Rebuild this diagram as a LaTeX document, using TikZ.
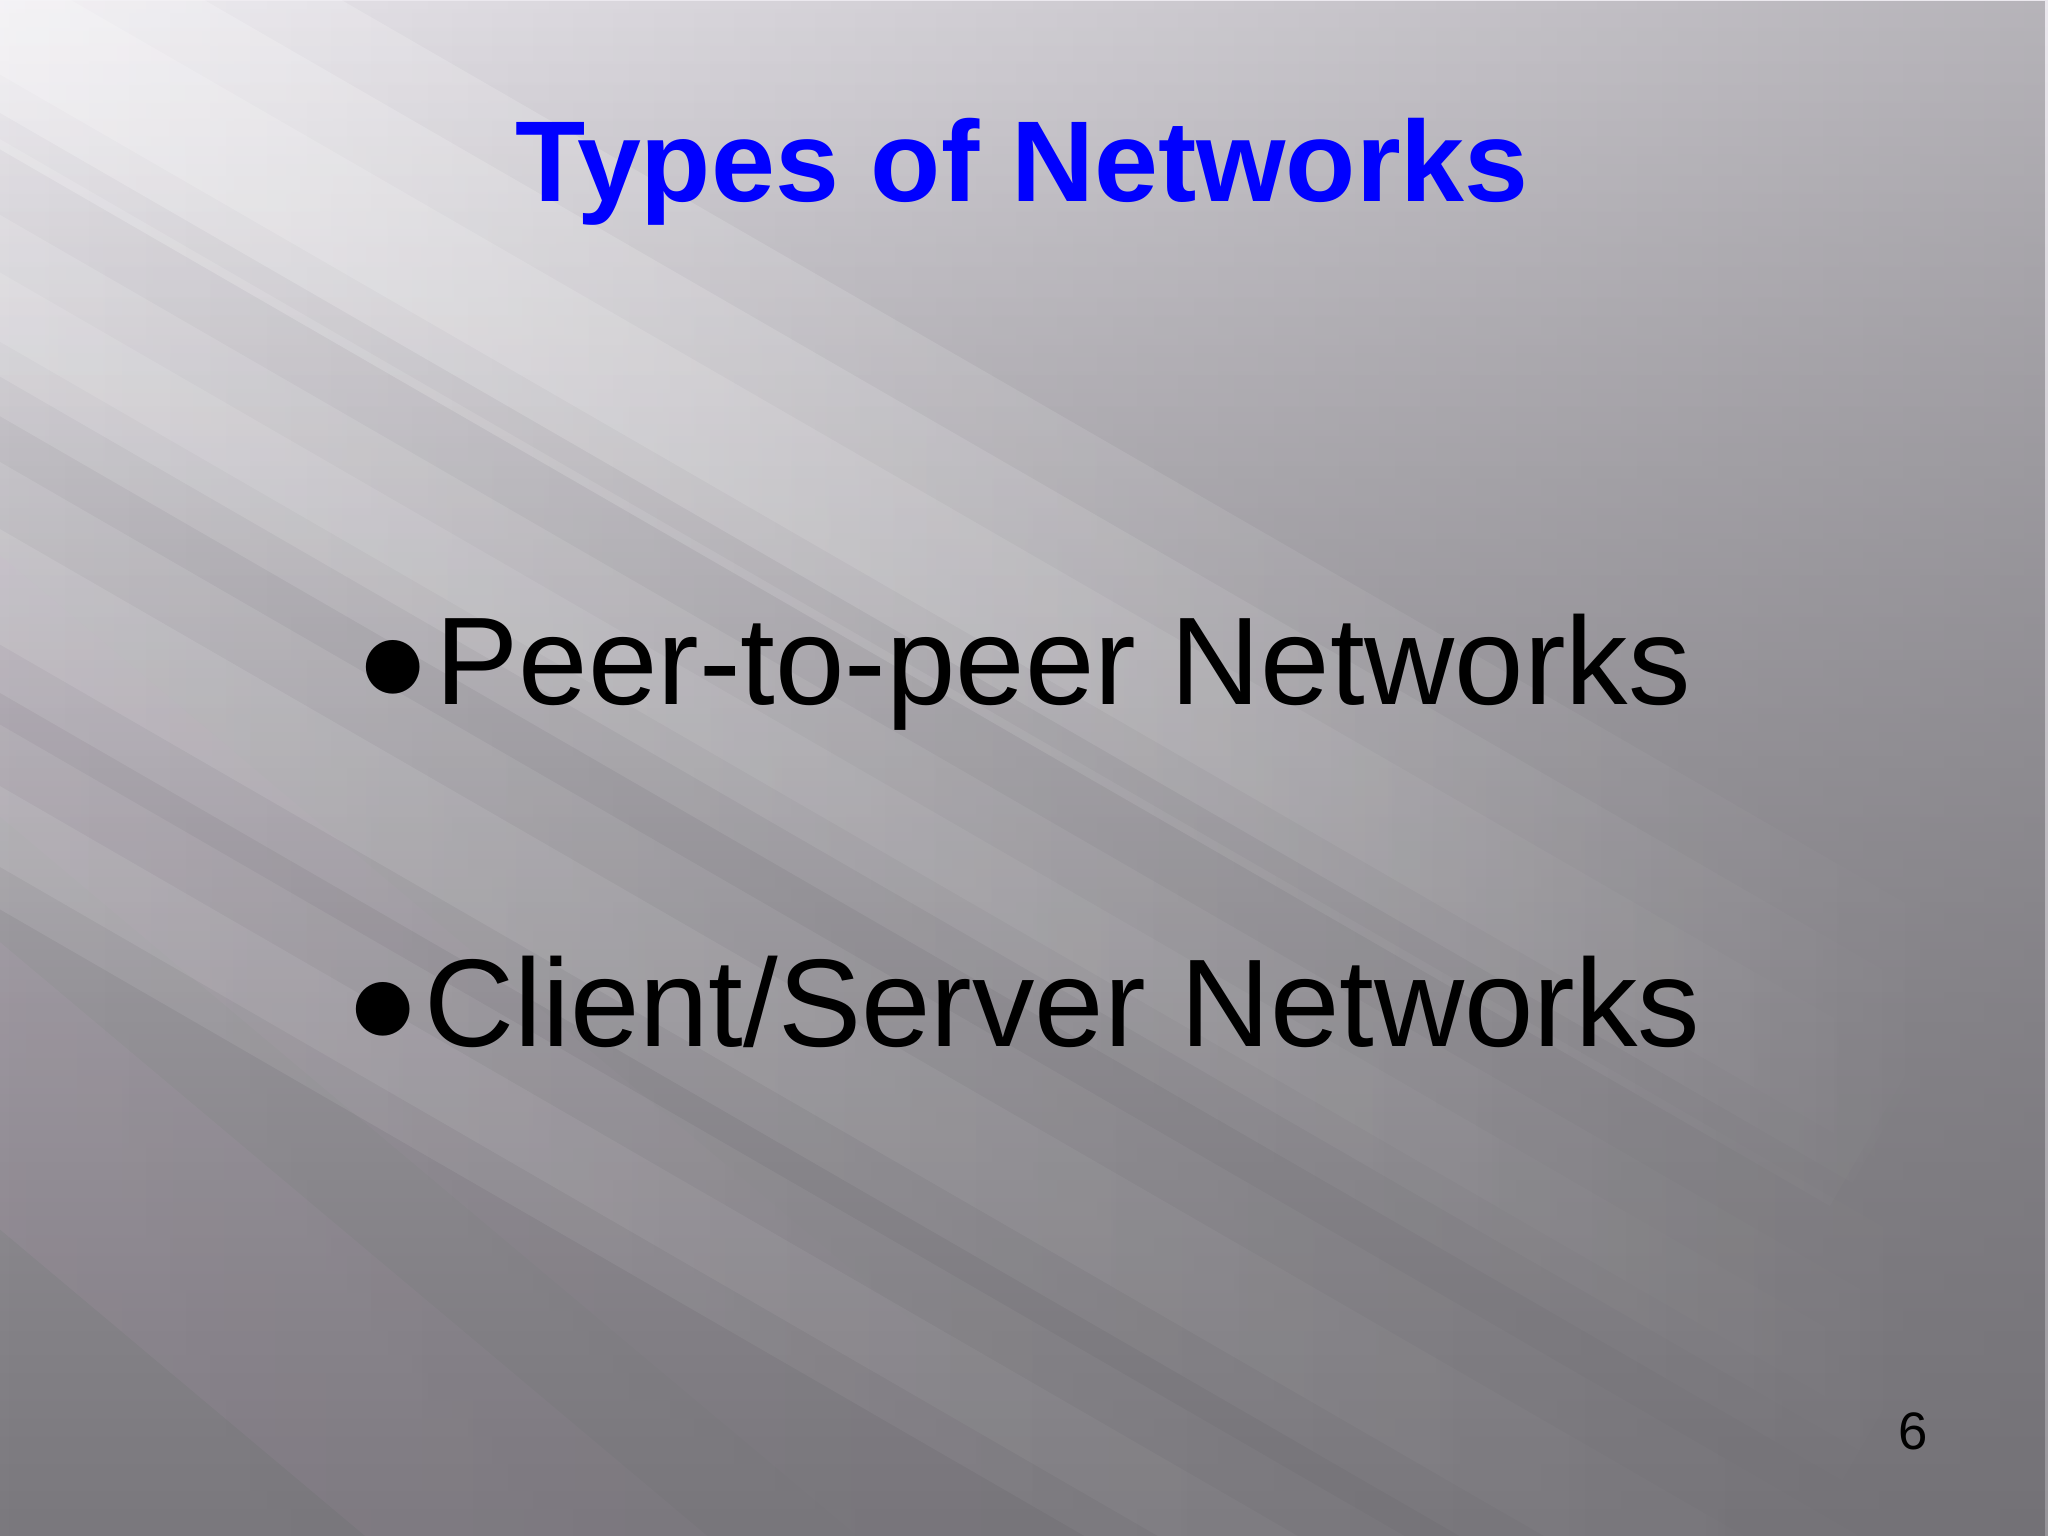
\documentclass[tikz,border=0pt]{standalone}
\usepackage{fontspec}
\setmainfont{Liberation Sans}
\newfontfamily\djv{DejaVu Sans}
\usetikzlibrary{fadings}
\definecolor{bgR}{RGB}{150,148,153}
\definecolor{bgL}{RGB}{235,232,238}
\definecolor{bgD}{RGB}{105,103,108}
\begin{document}
\begin{tikzpicture}[x=1cm,y=1cm,
  bullettext/.style={anchor=base west,inner sep=0pt,font=\fontsize{35.5}{40}\selectfont},
  bul/.style={anchor=base west,inner sep=0pt,font=\djv\fontsize{20}{24}\selectfont}]
\useasboundingbox (0,0) rectangle (20.48,15.36);
\shade[left color=bgL, right color=bgR, shading angle=0] (0,0) rectangle (20.48,15.36);
\fill[bgD,path fading=north,opacity=0.6] (0,0) rectangle (20.48,15.36);
\fill[bgD,path fading=west,opacity=0.4] (0,0) rectangle (20.48,15.36);
\begin{scope}
\clip (0,0) rectangle (20.48,15.36);
\foreach \y/\w/\o in {15.6/3.0/0.25, 15.4/2.0/0.25, 15.2/1.0/0.2, 12.6/2.4/0.15, 12.4/1.4/0.15, 12.3/0.6/0.12, 9.6/2.0/0.12, 9.5/1.0/0.12, 7.2/1.6/0.1, 7.1/0.7/0.1}{
  \fill[white,opacity=\o,rotate around={-30:(0,\y)},path fading=east] (-1,\y-\w/2) rectangle (22,\y+\w/2);
}
\foreach \y/\w/\o in {8.5/2.0/0.08, 4.5/2.2/0.1}{
  \fill[violet!30!white,opacity=\o,rotate around={-40:(0,\y)},path fading=east] (-1,\y-\w/2) rectangle (14,\y+\w/2);
}
\end{scope}
\node[anchor=base,inner sep=0pt,text=blue,font=\bfseries\fontsize{32.7}{38}\selectfont] (title) at (10.22,13.34) {Types of Networks};
\node[bul] (b1) at (3.62,8.50) {●};
\node[bullettext] (t1) at (4.35,8.31) {Peer-to-peer Networks};
\node[bul] (b2) at (3.52,5.08) {●};
\node[bullettext] (t2) at (4.24,4.89) {Client/Server Networks};
\node[anchor=base,inner sep=0pt,font=\fontsize{15}{18}\selectfont] (pg) at (19.13,0.86) {6};
\end{tikzpicture}
\end{document}
